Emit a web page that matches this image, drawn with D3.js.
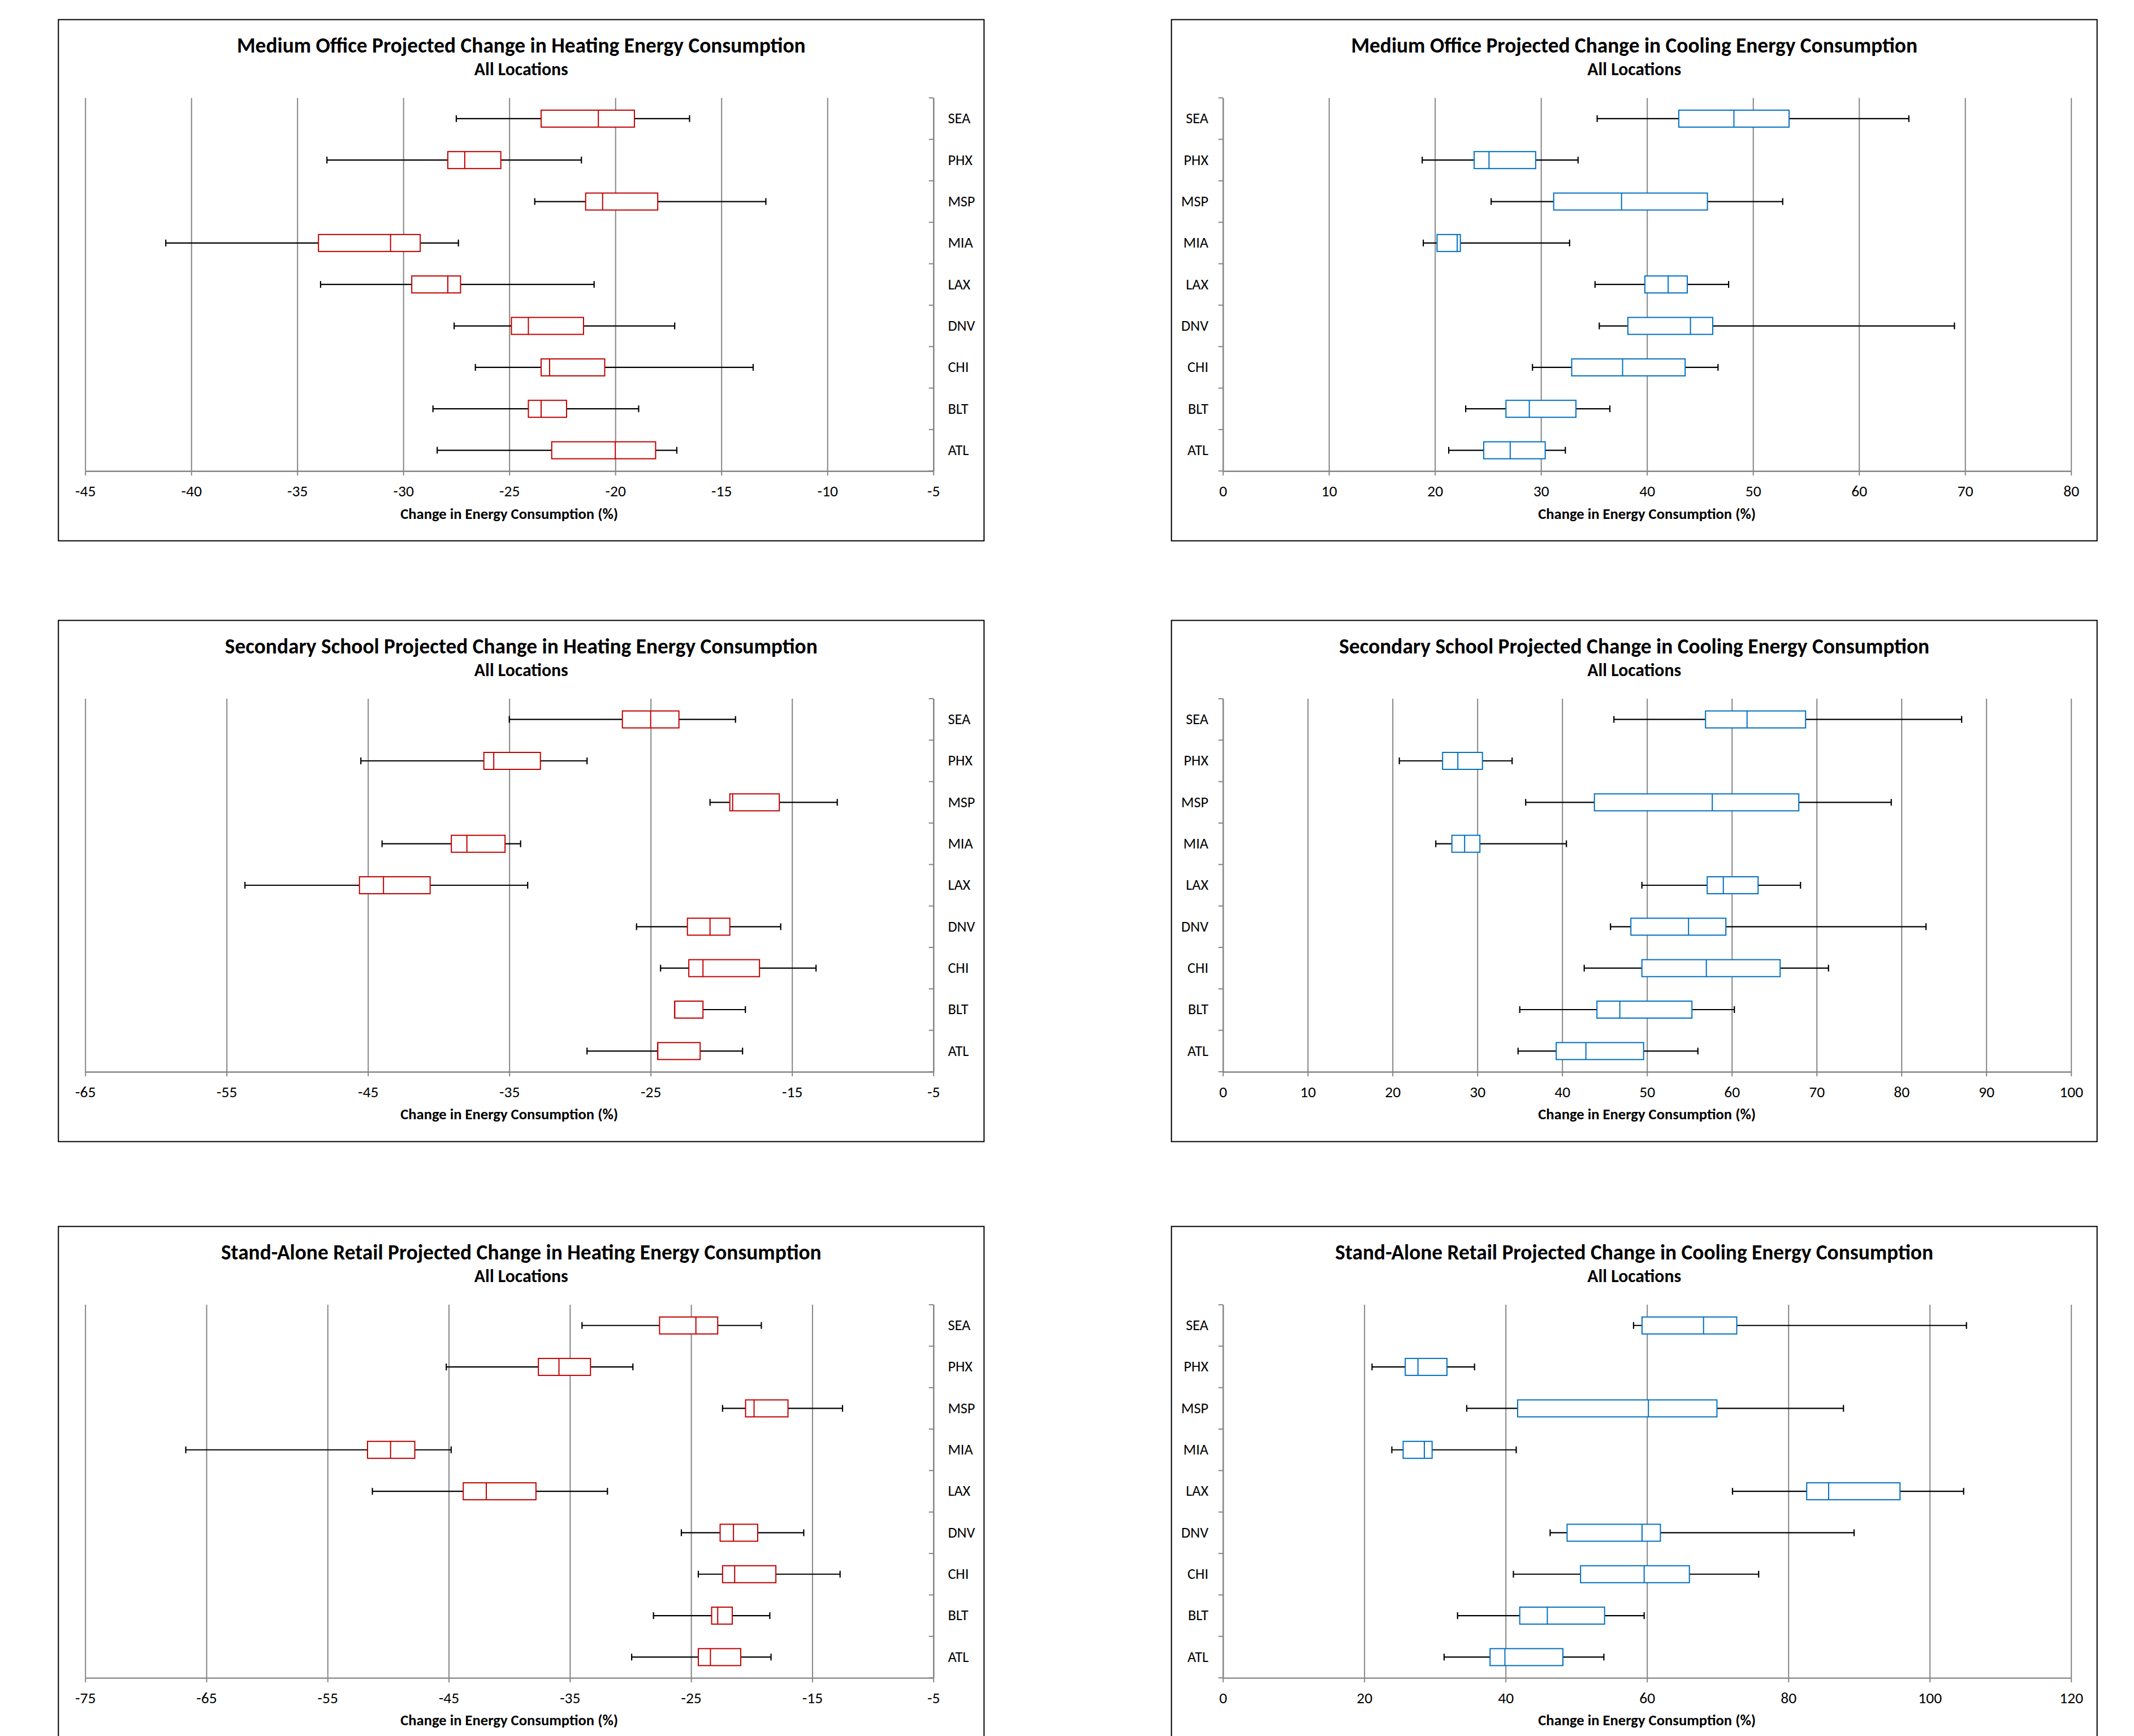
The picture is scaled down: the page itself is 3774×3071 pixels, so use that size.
<!DOCTYPE html>
<html><head><meta charset="utf-8">
<script src="https://cdn.jsdelivr.net/npm/d3@7"></script>
<style>
body{margin:0;background:#fff}
svg{display:block}
text{font-family:Carlito,Calibri,Lato,"Open Sans",sans-serif;fill:#000}
</style>
</head><body>
<script>
// ---------- data ----------
const categories = ["SEA","PHX","MSP","MIA","LAX","DNV","CHI","BLT","ATL"];
// each row: [min, q1, median, q3, max] in the order of categories
const officeHeat = [
  [-27.5,-23.5,-20.8,-19.1,-16.5],
  [-33.6,-27.9,-27.1,-25.4,-21.6],
  [-23.8,-21.4,-20.6,-18.0,-12.9],
  [-41.2,-34.0,-30.6,-29.2,-27.4],
  [-33.9,-29.6,-27.9,-27.3,-21.0],
  [-27.6,-24.9,-24.1,-21.5,-17.2],
  [-26.6,-23.5,-23.1,-20.5,-13.5],
  [-28.6,-24.1,-23.5,-22.3,-18.9],
  [-28.4,-23.0,-20.0,-18.1,-17.1]
];
const officeCool = [
  [35.3,43.0,48.2,53.4,64.7],
  [18.8,23.7,25.1,29.5,33.5],
  [25.3,31.2,37.6,45.7,52.8],
  [18.9,20.2,22.1,22.4,32.7],
  [35.1,39.8,42.0,43.8,47.7],
  [35.5,38.2,44.1,46.2,69.0],
  [29.2,32.9,37.7,43.6,46.7],
  [22.9,26.7,28.9,33.3,36.5],
  [21.3,24.6,27.1,30.4,32.3]
];
const schoolHeat = [
  [-35.0,-27.0,-25.0,-23.0,-19.0],
  [-45.5,-36.8,-36.1,-32.8,-29.5],
  [-20.8,-19.4,-19.2,-15.9,-11.8],
  [-44.0,-39.1,-38.0,-35.3,-34.2],
  [-53.7,-45.6,-43.9,-40.6,-33.7],
  [-26.0,-22.4,-20.8,-19.4,-15.8],
  [-24.3,-22.3,-21.3,-17.3,-13.3],
  [-23.3,-23.3,-23.3,-21.3,-18.3],
  [-29.5,-24.5,-24.5,-21.5,-18.5]
];
const schoolCool = [
  [46.1,56.9,61.8,68.7,87.1],
  [20.8,25.9,27.7,30.6,34.1],
  [35.7,43.8,57.7,67.9,78.8],
  [25.1,27.0,28.5,30.3,40.5],
  [49.4,57.1,59.0,63.1,68.1],
  [45.7,48.1,54.9,59.3,82.9],
  [42.6,49.4,57.0,65.7,71.4],
  [35.0,44.1,46.8,55.3,60.3],
  [34.8,39.3,42.8,49.6,56.0]
];
const retailHeat = [
  [-34.0,-27.6,-24.6,-22.8,-19.2],
  [-45.2,-37.6,-35.9,-33.3,-29.8],
  [-22.4,-20.5,-19.8,-17.0,-12.5],
  [-66.7,-51.7,-49.8,-47.8,-44.8],
  [-51.3,-43.8,-41.9,-37.8,-31.9],
  [-25.8,-22.6,-21.5,-19.5,-15.7],
  [-24.4,-22.4,-21.4,-18.0,-12.7],
  [-28.1,-23.3,-22.8,-21.6,-18.5],
  [-29.9,-24.4,-23.4,-20.9,-18.4]
];
const retailCool = [
  [58.1,59.3,68.0,72.7,105.2],
  [21.1,25.8,27.6,31.7,35.6],
  [34.5,41.7,60.2,69.9,87.8],
  [23.9,25.5,28.5,29.6,41.5],
  [72.1,82.6,85.7,95.8,104.8],
  [46.3,48.7,59.3,61.9,89.3],
  [41.1,50.6,59.6,66.0,75.8],
  [33.2,42.0,45.9,54.0,59.6],
  [31.3,37.8,39.9,48.1,53.9]
];
const officeHeatTicks = [-45,-40,-35,-30,-25,-20,-15,-10,-5];
const officeCoolTicks = [0,10,20,30,40,50,60,70,80];
const schoolHeatTicks = [-65,-55,-45,-35,-25,-15,-5];
const schoolCoolTicks = [0,10,20,30,40,50,60,70,80,90,100];
const retailHeatTicks = [-75,-65,-55,-45,-35,-25,-15,-5];
const retailCoolTicks = [0,20,40,60,80,100,120];
const titles = [
  "Medium Office Projected Change in Heating Energy Consumption",
  "Medium Office Projected Change in Cooling Energy Consumption",
  "Secondary School Projected Change in Heating Energy Consumption",
  "Secondary School Projected Change in Cooling Energy Consumption",
  "Stand-Alone Retail Projected Change in Heating Energy Consumption",
  "Stand-Alone Retail Projected Change in Cooling Energy Consumption"
];
const subtitle = "All Locations";
const xAxisTitle = "Change in Energy Consumption (%)";

// ---------- layout ----------
const W = 3774, H = 3071;
const colX = [103.3, 2071.7];
const rowY = [34.7, 1097.5, 2169.6];
const panelW = 1637, panelH = 922;
const plotW = 1500, plotH = 660;
const HEAT = "#C00000", COOL = "#0070C0", GRID = "#858585";

const panels = [
  {title: titles[0], data: officeHeat, ticks: officeHeatTicks, heat: true,  col: 0, row: 0},
  {title: titles[1], data: officeCool, ticks: officeCoolTicks, heat: false, col: 1, row: 0},
  {title: titles[2], data: schoolHeat, ticks: schoolHeatTicks, heat: true,  col: 0, row: 1},
  {title: titles[3], data: schoolCool, ticks: schoolCoolTicks, heat: false, col: 1, row: 1},
  {title: titles[4], data: retailHeat, ticks: retailHeatTicks, heat: true,  col: 0, row: 2},
  {title: titles[5], data: retailCool, ticks: retailCoolTicks, heat: false, col: 1, row: 2}
];

const svg = d3.select("body").append("svg").attr("width", W).attr("height", H);
svg.append("rect").attr("width", W).attr("height", H).attr("fill", "#fff");

function fitSize(str, weight, target) {
  const t = svg.append("text").attr("font-size", 100).attr("font-weight", weight).text(str);
  const w = t.node().getComputedTextLength();
  t.remove();
  return 100 * target / w;
}
const titleSize = fitSize(titles[0], "bold", 1006);
const subSize = fitSize(subtitle, "bold", 166);
const axTitleSize = fitSize(xAxisTitle, "bold", 385);
const catSize = fitSize("MSP", "normal", 48);
const tickSize = catSize * 1.05;

panels.forEach(p => {
  const x0 = colX[p.col], y0 = rowY[p.row];
  const g = svg.append("g");
  g.append("rect").attr("x", x0).attr("y", y0).attr("width", panelW).attr("height", panelH)
    .attr("fill", "#fff").attr("stroke", "#000").attr("stroke-width", 2);

  g.append("text").attr("x", x0 + panelW / 2).attr("y", y0 + 45.7).attr("dy", "0.35em")
    .attr("text-anchor", "middle").attr("font-weight", "bold").attr("font-size", titleSize).text(p.title);
  g.append("text").attr("x", x0 + panelW / 2).attr("y", y0 + 87.5).attr("dy", "0.35em")
    .attr("text-anchor", "middle").attr("font-weight", "bold").attr("font-size", subSize).text(subtitle);

  const left = x0 + (p.heat ? 47.4 : 91);
  const top = y0 + 138.5;
  const bottom = top + plotH;
  const x = d3.scaleLinear().domain([p.ticks[0], p.ticks[p.ticks.length - 1]]).range([left, left + plotW]);
  const y = d3.scaleBand().domain(categories).range([top, bottom]).paddingInner(0).paddingOuter(0);

  // gridlines
  const grid = g.append("g").attr("transform", `translate(0,${bottom})`)
    .call(d3.axisBottom(x).tickValues(p.ticks).tickSize(-plotH).tickFormat(""));
  grid.select(".domain").remove();
  grid.selectAll("line").attr("stroke", GRID).attr("stroke-width", 2);

  // x axis
  const xa = g.append("g").attr("transform", `translate(0,${bottom})`)
    .call(d3.axisBottom(x).tickValues(p.ticks).tickSize(8).tickSizeOuter(0).tickFormat(d => String(d)));
  xa.select(".domain").attr("stroke", GRID).attr("stroke-width", 2.4);
  xa.selectAll(".tick line").attr("stroke", GRID).attr("stroke-width", 2);
  xa.selectAll("text").attr("y", 35).attr("dy", "0.35em").attr("font-size", tickSize)
    .attr("font-family", "Carlito,Calibri,Lato,sans-serif").attr("fill", "#000");
  g.append("text").attr("x", left + plotW / 2).attr("y", bottom + 75).attr("dy", "0.35em")
    .attr("text-anchor", "middle").attr("font-weight", "bold").attr("font-size", axTitleSize).text(xAxisTitle);

  // category axis
  const axX = p.heat ? left + plotW : left;
  const ya = g.append("g").attr("transform", `translate(${axX},0)`)
    .call((p.heat ? d3.axisRight(y) : d3.axisLeft(y)).tickSize(0).tickSizeOuter(0).tickPadding(25.7));
  ya.select(".domain").attr("stroke", GRID).attr("stroke-width", 2.4);
  ya.selectAll("text").attr("font-size", catSize).attr("font-family", "Carlito,Calibri,Lato,sans-serif").attr("fill", "#000");
  const bounds = categories.map(c => y(c)).concat([bottom]);
  g.append("g").selectAll("line").data(bounds).join("line")
    .attr("x1", axX - 8).attr("x2", axX).attr("y1", d => d).attr("y2", d => d)
    .attr("stroke", GRID).attr("stroke-width", 2);

  // boxes
  const color = p.heat ? HEAT : COOL;
  const bh = 30, cap = 6;
  const rows = p.data.map((d, i) => ({cat: categories[i], min: d[0], q1: d[1], med: d[2], q3: d[3], max: d[4]}));
  const bg = g.append("g").selectAll("g").data(rows).join("g")
    .attr("transform", d => `translate(0,${y(d.cat) + y.bandwidth() / 2})`);
  bg.append("line").attr("x1", d => x(d.min)).attr("x2", d => x(d.max)).attr("y1", 0).attr("y2", 0)
    .attr("stroke", "#000").attr("stroke-width", 2.2);
  bg.append("line").attr("x1", d => x(d.min)).attr("x2", d => x(d.min)).attr("y1", -cap).attr("y2", cap)
    .attr("stroke", "#000").attr("stroke-width", 2.2);
  bg.append("line").attr("x1", d => x(d.max)).attr("x2", d => x(d.max)).attr("y1", -cap).attr("y2", cap)
    .attr("stroke", "#000").attr("stroke-width", 2.2);
  bg.append("rect").attr("x", d => x(d.q1)).attr("y", -bh / 2).attr("width", d => x(d.q3) - x(d.q1)).attr("height", bh)
    .attr("fill", "#fff").attr("stroke", color).attr("stroke-width", 2);
  bg.append("line").attr("x1", d => x(d.med)).attr("x2", d => x(d.med)).attr("y1", -bh / 2).attr("y2", bh / 2)
    .attr("stroke", color).attr("stroke-width", 2);
});
</script>
</body></html>
